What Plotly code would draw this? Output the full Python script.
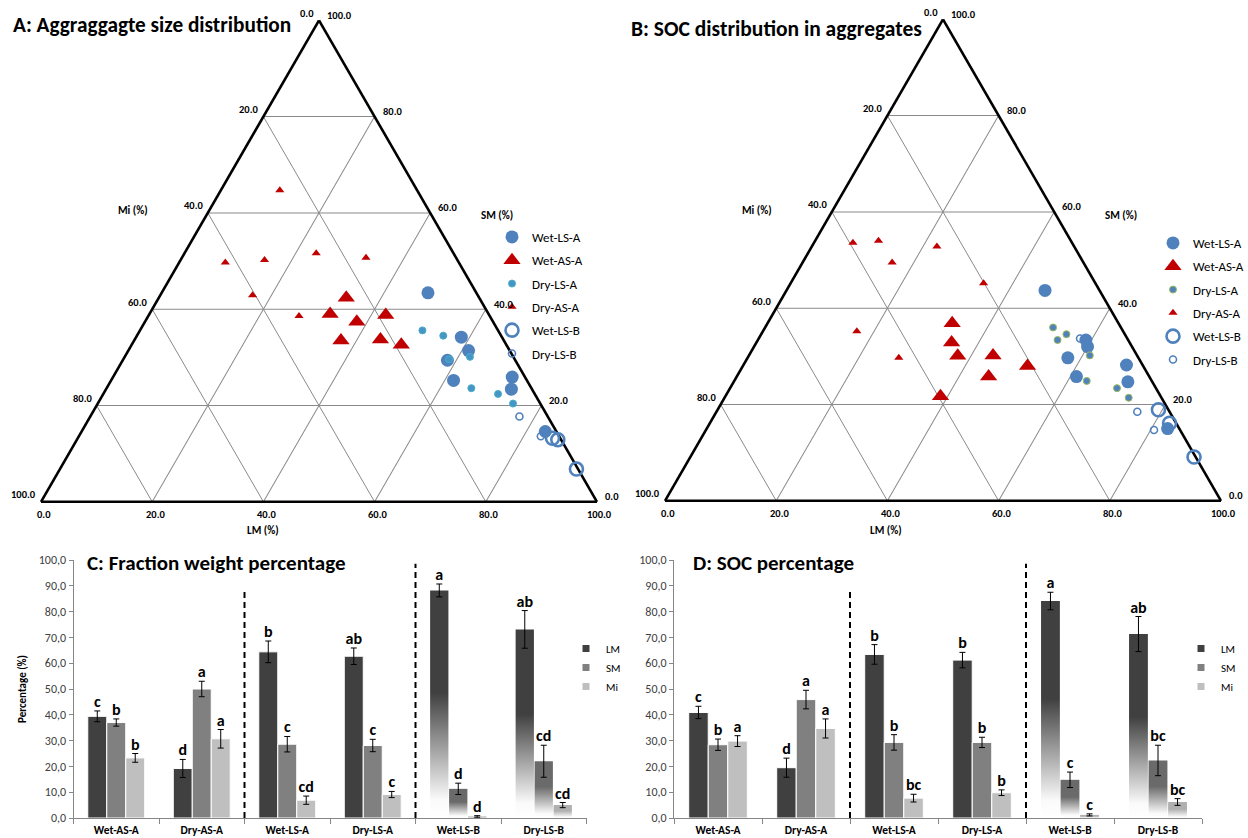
import plotly.graph_objects as go

# ---------------- Data ----------------
categories = ["Wet-AS-A", "Dry-AS-A", "Wet-LS-A", "Dry-LS-A", "Wet-LS-B", "Dry-LS-B"]
fractions = ["LM", "SM", "Mi"]

# C: Fraction weight percentage (mean, error, significance letters)
weight_LM = [39.4, 19.2, 64.4, 62.7, 88.2, 73.1]
weight_SM = [37.0, 50.0, 28.6, 28.1, 11.3, 22.0]
weight_Mi = [23.3, 30.7, 6.9, 9.1, 0.6, 5.0]
weight_LM_err = [2.1, 3.5, 4.2, 3.2, 2.5, 7.3]
weight_SM_err = [1.4, 3.0, 3.0, 2.4, 2.2, 6.2]
weight_Mi_err = [1.7, 3.6, 1.6, 1.2, 0.3, 1.0]
weight_LM_sig = ["c", "d", "b", "ab", "a", "ab"]
weight_SM_sig = ["b", "a", "c", "c", "d", "cd"]
weight_Mi_sig = ["b", "a", "cd", "c", "d", "cd"]

# D: SOC percentage
soc_LM = [40.9, 19.5, 63.4, 61.2, 84.1, 71.3]
soc_SM = [28.4, 45.9, 29.3, 29.3, 14.8, 22.3]
soc_Mi = [29.8, 34.7, 7.7, 9.8, 1.2, 6.2]
soc_LM_err = [2.4, 3.7, 3.8, 3.0, 3.4, 6.8]
soc_SM_err = [2.2, 3.6, 3.0, 2.0, 3.0, 5.9]
soc_Mi_err = [2.1, 3.7, 1.5, 1.1, 0.4, 1.3]
soc_LM_sig = ["c", "d", "b", "b", "a", "ab"]
soc_SM_sig = ["b", "a", "b", "b", "c", "bc"]
soc_Mi_sig = ["a", "a", "bc", "b", "c", "bc"]

# Ternary series: SM (top), Mi (left), LM (right) in %
series_names = ["Wet-LS-A", "Wet-AS-A", "Dry-LS-A", "Dry-AS-A", "Wet-LS-B", "Dry-LS-B"]

# A: Aggregate size distribution
A_WetLSA_SM = [43.4, 34.2, 31.4, 29.4, 25.2, 25.9, 23.4, 14.6]
A_WetLSA_Mi = [8.7, 7.3, 7.4, 12.2, 13.2, 2.3, 3.7, 2.0]
A_WetLSA_LM = [47.9, 58.5, 61.2, 58.4, 61.6, 71.8, 72.9, 83.4]
A_WetASA_SM = [42.4, 39.0, 38.8, 37.4, 33.5, 33.7, 32.6]
A_WetASA_Mi = [23.9, 28.5, 18.6, 24.5, 29.3, 22.1, 18.9]
A_WetASA_LM = [33.7, 32.5, 42.6, 38.1, 37.2, 44.2, 48.5]
A_DryLSA_SM = [35.6, 34.5, 30.1, 29.6, 23.6, 22.4, 20.4]
A_DryLSA_Mi = [13.6, 10.4, 7.8, 11.8, 10.8, 6.6, 4.9]
A_DryLSA_LM = [50.8, 55.1, 62.1, 58.6, 65.6, 71.0, 74.7]
A_DryASA_SM = [64.7, 49.7, 50.2, 51.6, 50.7, 42.9, 38.6]
A_DryASA_Mi = [24.7, 42.0, 34.7, 24.7, 16.2, 40.5, 34.3]
A_DryASA_LM = [10.6, 8.3, 15.1, 23.7, 33.1, 16.6, 27.1]
A_WetLSB_SM = [13.2, 12.9, 6.8]
A_WetLSB_Mi = [1.4, 0.6, 0.3]
A_WetLSB_LM = [85.4, 86.5, 92.9]
A_DryLSB_SM = [17.7, 13.6]
A_DryLSB_Mi = [5.1, 3.3]
A_DryLSB_LM = [77.2, 83.1]

# B: SOC distribution in aggregates
B_WetLSA_SM = [43.7, 33.4, 32.0, 29.7, 25.8, 28.2, 24.7, 15.0]
B_WetLSA_Mi = [9.8, 7.6, 8.0, 12.7, 13.1, 2.9, 4.4, 2.1]
B_WetLSA_LM = [46.5, 59.0, 60.0, 57.6, 61.1, 68.9, 70.9, 82.9]
B_WetASA_SM = [36.9, 32.9, 30.1, 30.2, 25.8, 28.0, 21.7]
B_WetASA_Mi = [29.9, 32.0, 32.3, 25.9, 28.9, 20.8, 39.6]
B_WetASA_LM = [33.2, 35.1, 37.6, 43.9, 45.3, 51.2, 38.7]
B_DryLSA_SM = [36.0, 34.6, 33.4, 30.2, 24.9, 23.4, 21.4]
B_DryLSA_Mi = [12.2, 10.5, 12.7, 8.5, 11.7, 7.0, 5.9]
B_DryLSA_LM = [51.8, 54.9, 53.9, 61.3, 63.4, 69.6, 72.7]
B_DryASA_SM = [53.6, 54.0, 49.5, 52.8, 45.2, 35.2, 29.7]
B_DryASA_Mi = [39.4, 34.6, 34.4, 24.7, 20.1, 47.9, 43.1]
B_DryASA_LM = [7.0, 11.4, 16.1, 22.5, 34.7, 16.9, 27.2]
B_WetLSB_SM = [18.9, 16.1, 9.1]
B_WetLSB_Mi = [1.8, 1.2, 0.3]
B_WetLSB_LM = [79.3, 82.7, 90.6]
B_DryLSB_SM = [18.5, 14.7, 33.7]
B_DryLSB_Mi = [5.8, 4.7, 8.5]
B_DryLSB_LM = [75.7, 80.6, 57.8]

ternary_ticks = [0, 20, 40, 60, 80, 100]

# ---------------- Styles ----------------
FONT = "Carlito, Lato, 'Open Sans', sans-serif"
BLUE = "#4F81BD"
RED = "#C00000"
bar_colors = {"LM": "#404040", "SM": "#808080", "Mi": "#BFBFBF"}
grad_top = {"LM": "#404040", "SM": "#6a6a6a", "Mi": "#b0b0b0"}
gradient_cats = {"Wet-LS-B", "Dry-LS-B"}
FIG_W, FIG_H = 1248, 838

# ternary domain boxes in pixels (left, right, top, bottom)
dom_A = (41.0, 597.0, 20.3, 501.8)
dom_B = (665.0, 1221.0, 19.3, 500.8)

fig = go.Figure()

A_data = {
    "Wet-LS-A": (A_WetLSA_SM, A_WetLSA_Mi, A_WetLSA_LM),
    "Wet-AS-A": (A_WetASA_SM, A_WetASA_Mi, A_WetASA_LM),
    "Dry-LS-A": (A_DryLSA_SM, A_DryLSA_Mi, A_DryLSA_LM),
    "Dry-AS-A": (A_DryASA_SM, A_DryASA_Mi, A_DryASA_LM),
    "Wet-LS-B": (A_WetLSB_SM, A_WetLSB_Mi, A_WetLSB_LM),
    "Dry-LS-B": (A_DryLSB_SM, A_DryLSB_Mi, A_DryLSB_LM),
}
B_data = {
    "Wet-LS-A": (B_WetLSA_SM, B_WetLSA_Mi, B_WetLSA_LM),
    "Wet-AS-A": (B_WetASA_SM, B_WetASA_Mi, B_WetASA_LM),
    "Dry-LS-A": (B_DryLSA_SM, B_DryLSA_Mi, B_DryLSA_LM),
    "Dry-AS-A": (B_DryASA_SM, B_DryASA_Mi, B_DryASA_LM),
    "Wet-LS-B": (B_WetLSB_SM, B_WetLSB_Mi, B_WetLSB_LM),
    "Dry-LS-B": (B_DryLSB_SM, B_DryLSB_Mi, B_DryLSB_LM),
}


def marker_style(name, dry_fill, dry_edge):
    if name == "Wet-LS-A":
        return dict(symbol="circle", size=13, color=BLUE, line=dict(width=0))
    if name == "Wet-AS-A":
        return dict(symbol="triangle-up", size=15, color=RED, line=dict(width=0))
    if name == "Dry-LS-A":
        return dict(symbol="circle", size=7, color=dry_fill, line=dict(width=1, color=dry_edge))
    if name == "Dry-AS-A":
        return dict(symbol="triangle-up", size=8, color=RED, line=dict(width=0))
    if name == "Wet-LS-B":
        return dict(symbol="circle-open", size=13, color=BLUE, line=dict(width=2.6))
    return dict(symbol="circle-open", size=7, color=BLUE, line=dict(width=1.6))


def tern_to_px(dom, sm, lm):
    """Screen position of a ternary point (SM top, LM bottom-right) inside a domain box."""
    l, r, t, b = dom
    cx, cy = (l + r) / 2, (t + b) / 2
    side = min(r - l, (b - t) * 2 / 3 ** 0.5)
    height = side * 3 ** 0.5 / 2
    x0, base = cx - side / 2, cy + height / 2
    return x0 + side * (lm + sm / 2) / 100, base - height * sm / 100


for subplot, legend_id, data, dfill, edge in [("ternary", "legend", A_data, "#4596C6", "#4BACC6"),
                                               ("ternary2", "legend2", B_data, BLUE, "#9BBB59")]:
    for name in series_names:
        sm, mi, lm = data[name]
        fig.add_trace(go.Scatterternary(
            a=sm, b=mi, c=lm, mode="markers", name=name, subplot=subplot,
            marker=marker_style(name, dfill, edge), legend=legend_id, legendgroup=subplot + name,
            cliponaxis=False, hoverinfo="skip"))

# ---------------- Bar charts ----------------
W = 0.222
bar_sets = [
    ("x", "y", "legend3",
     {"LM": (weight_LM, weight_LM_err, weight_LM_sig),
      "SM": (weight_SM, weight_SM_err, weight_SM_sig),
      "Mi": (weight_Mi, weight_Mi_err, weight_Mi_sig)}),
    ("x2", "y2", "legend4",
     {"LM": (soc_LM, soc_LM_err, soc_LM_sig),
      "SM": (soc_SM, soc_SM_err, soc_SM_sig),
      "Mi": (soc_Mi, soc_Mi_err, soc_Mi_sig)}),
]

for xa, ya, leg, fr in bar_sets:
    for k, f in enumerate(fractions):
        vals, errs, sigs = fr[f]
        xs = [i + (k - 1) * W for i in range(len(categories))]
        cols = ["rgba(0,0,0,0)" if c in gradient_cats else bar_colors[f] for c in categories]
        fig.add_trace(go.Bar(x=xs, y=vals, width=W, xaxis=xa, yaxis=ya,
                             marker=dict(color=cols, line=dict(color="white", width=1)),
                             showlegend=False, hoverinfo="skip"))
    # gradient-filled bars for the LS-B groups
    for k, f in enumerate(fractions):
        vals, errs, sigs = fr[f]
        for i, c in enumerate(categories):
            if c not in gradient_cats:
                continue
            xc = i + (k - 1) * W
            x0, x1 = xc - W / 2 + 0.004, xc + W / 2 - 0.004
            v = vals[i]
            fig.add_trace(go.Scatter(
                x=[x0, x1, x1, x0, x0], y=[0, 0, v, v, 0], xaxis=xa, yaxis=ya,
                mode="lines", fill="toself", line=dict(width=0, color="rgba(0,0,0,0)"),
                fillgradient=dict(type="vertical", start=0, stop=v,
                                  colorscale=[[0, "#ffffff"], [0.08, "#fafafa"],
                                              [0.55, grad_top[f]], [1, grad_top[f]]]),
                showlegend=False, hoverinfo="skip"))
    # error bars and letters
    for k, f in enumerate(fractions):
        vals, errs, sigs = fr[f]
        xs = [i + (k - 1) * W for i in range(len(categories))]
        fig.add_trace(go.Scatter(
            x=xs, y=vals, xaxis=xa, yaxis=ya, mode="markers",
            marker=dict(size=1, color="rgba(0,0,0,0)"),
            error_y=dict(type="data", array=errs, color="black", thickness=1, width=3),
            showlegend=False, hoverinfo="skip"))
        fig.add_trace(go.Scatter(
            x=xs, y=[v + e for v, e in zip(vals, errs)], xaxis=xa, yaxis=ya, mode="text",
            text=["<b>%s</b>" % s for s in sigs], textposition="top center",
            textfont=dict(family=FONT, size=16, color="black"), cliponaxis=False,
            showlegend=False, hoverinfo="skip"))
    # legend entries
    for f in fractions:
        fig.add_trace(go.Scatter(x=[None], y=[None], xaxis=xa, yaxis=ya, mode="markers", name=f,
                                 marker=dict(symbol="square", size=7, color=bar_colors[f]),
                                 legend=leg, legendgroup=leg + f))

# ---------------- Layout ----------------
tern_axis = dict(min=0, tickmode="linear", tick0=0, dtick=20, showticklabels=False, ticks="",
                 showline=True, linecolor="black", linewidth=2.6, showgrid=True,
                 gridcolor="#8a8a8a", gridwidth=0.8, layer="below traces", title=dict(text=""))


def tern(dom):
    l, r, t, b = dom
    return dict(domain=dict(x=[l / FIG_W, r / FIG_W], y=[1 - b / FIG_H, 1 - t / FIG_H]),
                sum=100, bgcolor="white", aaxis=tern_axis, baxis=tern_axis, caxis=tern_axis)


yax = dict(range=[0, 100], dtick=10, tick0=0, tickformat=".1f", showline=True, linecolor="#868686",
           linewidth=1, ticks="outside", ticklen=4, tickcolor="#868686", showgrid=False, zeroline=False,
           automargin=False, tickfont=dict(family=FONT, size=12, color="#404040"))
xax = dict(range=[-0.5, 5.5], tickmode="array", tickvals=list(range(6)),
           ticktext=["<b>%s</b>" % c for c in categories], showline=True, linecolor="#868686",
           linewidth=1, ticks="outside", ticklen=1, tickcolor="rgba(0,0,0,0)", showgrid=False,
           zeroline=False, automargin=False, tickfont=dict(family=FONT, size=11.5, color="black"),
           minor=dict(tickmode="array", tickvals=[i - 0.5 for i in range(7)], ticks="outside",
                      ticklen=5, tickcolor="#868686", showgrid=False))

legend_common = dict(bgcolor="rgba(0,0,0,0)", xanchor="left", yanchor="top", itemsizing="trace",
                     font=dict(family=FONT, size=13, color="black"), tracegroupgap=3.4,
                     itemclick=False, itemdoubleclick=False)
bar_legend = dict(bgcolor="rgba(0,0,0,0)", xanchor="left", yanchor="top",
                  font=dict(family=FONT, size=11, color="black"), tracegroupgap=0,
                  itemclick=False, itemdoubleclick=False)

fig.update_layout(
    width=FIG_W, height=FIG_H, autosize=False,
    margin=dict(l=0, r=0, t=0, b=0, autoexpand=False),
    paper_bgcolor="white", plot_bgcolor="white",
    separators=", ",
    font=dict(family=FONT, color="black"),
    ternary=tern(dom_A),
    ternary2=tern(dom_B),
    xaxis=dict(domain=[73.5 / FIG_W, 586.5 / FIG_W], anchor="y", **xax),
    yaxis=dict(domain=[1 - 818 / FIG_H, 1 - 560 / FIG_H], anchor="x",
               title=dict(text="<b>Percentage (%)</b>", font=dict(family=FONT, size=11), standoff=9), **yax),
    xaxis2=dict(domain=[674 / FIG_W, 1202 / FIG_W], anchor="y2", **xax),
    yaxis2=dict(domain=[1 - 818 / FIG_H, 1 - 560 / FIG_H], anchor="x2", **yax),
    barmode="overlay",
    legend=dict(x=492 / FIG_W, y=1 - 222 / FIG_H, **legend_common),
    legend2=dict(x=1153 / FIG_W, y=1 - 228 / FIG_H, **legend_common),
    legend3=dict(x=566 / FIG_W, y=1 - 634 / FIG_H, **bar_legend),
    legend4=dict(x=1181 / FIG_W, y=1 - 634 / FIG_H, **bar_legend),
    showlegend=True,
)

# dashed group separators
for xr, yr in [("x", "y"), ("x2", "y2")]:
    for xpos, top in [(1.5, 88), (3.5, 98.5)]:
        fig.add_shape(type="line", xref=xr, yref=yr, x0=xpos, x1=xpos, y0=0, y1=top,
                      line=dict(color="black", width=2, dash="6px,4px"), layer="above")

# ternary tick labels (right edge: SM, left edge: Mi, bottom: LM)
for dom in (dom_A, dom_B):
    for v in ternary_ticks:
        lbl = "<b>%.1f</b>" % v
        for (sm, lm), anchor, dx, dy in [((v, 100 - v), "left", 6, -5),
                                          ((100 - v, 0), "right", -3, -7),
                                          ((0, v), "center", 3, 13)]:
            px, py = tern_to_px(dom, sm, lm)
            fig.add_annotation(x=(px + dx) / FIG_W, y=1 - (py + dy) / FIG_H, xref="paper", yref="paper",
                               text=lbl, showarrow=False, xanchor=anchor, yanchor="middle",
                               font=dict(family=FONT, size=10.5, color="black"))

# titles and axis names
annots = [
    (11, 25, "A: Aggraggagte size distribution", 21.3, "left"),
    (629, 29, "B: SOC distribution in aggregates", 21.5, "left"),
    (85, 563, "C: Fraction weight percentage", 21, "left"),
    (691, 563, "D: SOC percentage", 21, "left"),
    (133, 211, "Mi (%)", 11, "center"),
    (497, 215, "SM (%)", 11, "center"),
    (263, 530, "LM (%)", 11, "center"),
    (757, 211, "Mi (%)", 11, "center"),
    (1121, 215, "SM (%)", 11, "center"),
    (886, 530, "LM (%)", 11, "center"),
]
for px, py, txt, size, anchor in annots:
    fig.add_annotation(x=px / FIG_W, y=1 - py / FIG_H, xref="paper", yref="paper", text="<b>%s</b>" % txt,
                       showarrow=False, xanchor=anchor, yanchor="middle",
                       font=dict(family=FONT, size=size, color="black"))

fig.write_html("out.html")
